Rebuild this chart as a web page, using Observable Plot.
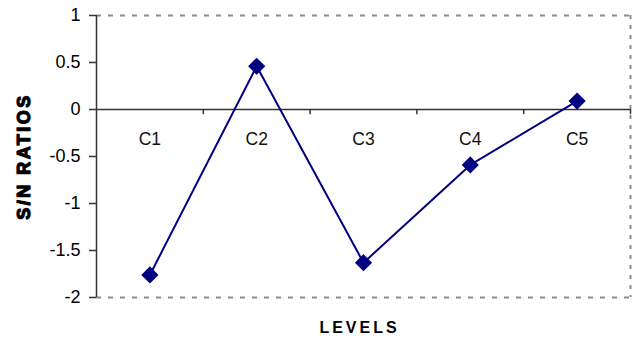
<!DOCTYPE html>
<html>
<head>
<meta charset="utf-8">
<script src="https://cdn.jsdelivr.net/npm/d3@7"></script>
<script src="https://cdn.jsdelivr.net/npm/@observablehq/plot@0.6"></script>
<style>
  html, body { margin: 0; padding: 0; background: #fff; }
  .ylab { letter-spacing: 2.5px; }
  .xlab { letter-spacing: 3px; }
</style>
</head>
<body>
<div id="chart"></div>
<script>
const categories = ["C1", "C2", "C3", "C4", "C5"];
const snRatios = [-1.76, 0.46, -1.63, -0.59, 0.09];
const yTicks = [-2, -1.5, -1, -0.5, 0, 0.5, 1];
const boundaries = [1, 2, 3, 4, 5];

const data = categories.map((c, i) => ({ level: c, pos: i + 0.5, value: snRatios[i] }));

const chart = Plot.plot({
  width: 636,
  height: 344,
  marginLeft: 96,
  marginRight: 6,
  marginTop: 15,
  marginBottom: 47,
  style: { fontFamily: "Liberation Sans, Arial, sans-serif", background: "#fff", color: "#000" },
  x: { domain: [0, 5], axis: null },
  y: { domain: [-2, 1], axis: null },
  marks: [
    // dashed border top, bottom, right
    Plot.ruleY([1, -2], { stroke: "#8c8c8c", strokeWidth: 2, strokeDasharray: "5,7" }),
    Plot.ruleX([5], { stroke: "#8c8c8c", strokeWidth: 2, strokeDasharray: "4,6" }),
    // zero line
    Plot.ruleY([0], { stroke: "#333", strokeWidth: 1.5 }),
    // boundary ticks on zero line
    Plot.ruleX(boundaries, { y1: 0, y2: -0.055, stroke: "#333", strokeWidth: 1.5 }),
    // left axis
    Plot.ruleX([0], { stroke: "#333", strokeWidth: 1.5 }),
    Plot.axisY({
      ticks: yTicks,
      tickSize: 7,
      text: null,
      stroke: "#333",
      strokeWidth: 1.5,
      label: null
    }),
    Plot.text(yTicks, {
      y: d => d, text: d => String(d), frameAnchor: "left", textAnchor: "end",
      dx: -16, fontSize: 18, fill: "#000"
    }),
    // category labels
    Plot.text(data, { x: "pos", y: () => 0, text: "level", dy: 30, fontSize: 17.5, fill: "#111" }),
    // series
    Plot.line(data, { x: "pos", y: "value", stroke: "#000080", strokeWidth: 2 }),
    Plot.dot(data, { x: "pos", y: "value", symbol: "diamond2", r: 6.8, fill: "#000080", stroke: "#000080" }),
    // axis titles
    Plot.text(["S/N RATIOS"], {
      frameAnchor: "left", textAnchor: "middle", dx: -72, dy: 0, rotate: -90,
      fontSize: 18, fontWeight: 900, fill: "#000", stroke: "#000", strokeWidth: 1.2, className: "ylab"
    }),
    Plot.text(["LEVELS"], {
      frameAnchor: "bottom", dy: 35, dx: -4,
      fontSize: 16, fontWeight: "bold", fill: "#000", className: "xlab"
    })
  ]
});
document.getElementById("chart").appendChild(chart);
</script>
</body>
</html>
